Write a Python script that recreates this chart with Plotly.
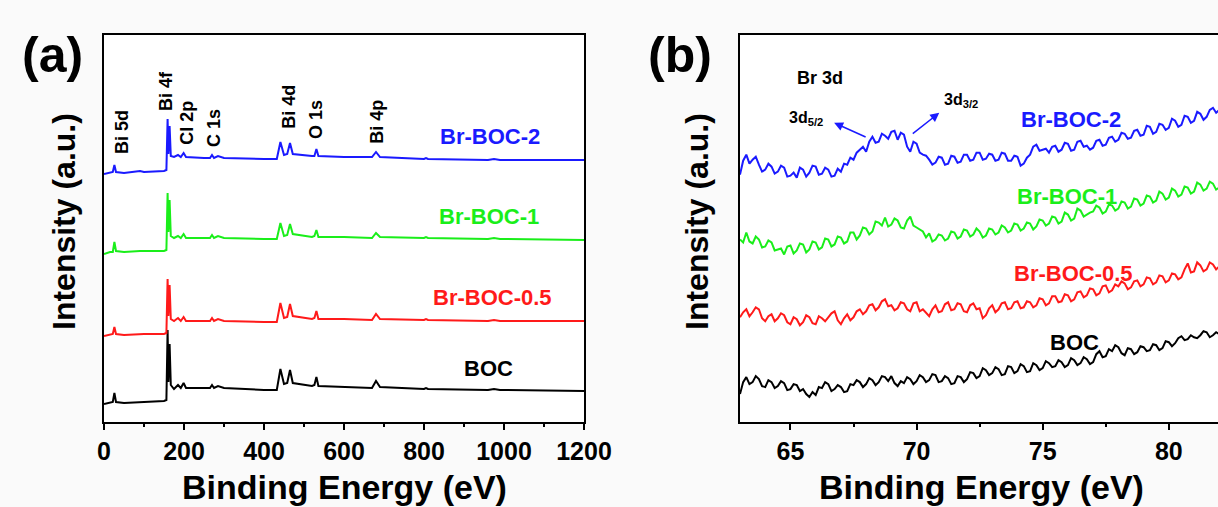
import plotly.graph_objects as go

# ---------------- Panel (a): XPS survey spectra ----------------
survey_be = [0, 15, 22, 26, 30, 50, 90, 100, 150, 156, 159, 161, 164, 167, 175, 185, 192, 199, 205,
             250, 265, 270, 275, 285, 300, 400, 432, 441, 450, 458, 465, 472, 490, 520, 526, 531,
             536, 600, 670, 680, 690, 800, 805, 810, 960, 975, 990, 1200]

survey_boc = [18, 19, 20, 29, 20, 19, 20, 20, 21, 22, 92, 40, 78, 37, 33, 37, 34, 39, 34,
              34, 34, 37, 34, 36, 34, 32, 32, 53, 38, 39, 52, 39, 38, 36, 37, 45,
              36, 35, 34, 41, 35, 33, 34, 33, 32, 33, 32, 31]
survey_brboc05 = [86, 87, 88, 95, 88, 87, 88, 88, 88, 89, 143, 106, 137, 103, 101, 104, 101, 105, 101,
                  101, 101, 104, 101, 103, 101, 100, 100, 119, 104, 105, 118, 106, 105, 103, 104, 111,
                  103, 103, 102, 108, 103, 102, 103, 102, 101, 102, 101, 101]
survey_brboc1 = [168, 170, 170, 180, 171, 170, 171, 171, 171, 172, 229, 190, 222, 186, 184, 186, 184, 188, 184,
                 184, 184, 187, 184, 186, 184, 183, 183, 199, 186, 187, 198, 188, 187, 185, 186, 192,
                 185, 185, 184, 189, 185, 184, 185, 184, 183, 184, 183, 182]
survey_brboc2 = [248, 249, 250, 257, 250, 249, 251, 250, 251, 252, 303, 268, 296, 266, 265, 267, 265, 269, 265,
                 264, 264, 267, 264, 266, 264, 263, 263, 280, 267, 268, 279, 268, 267, 266, 266, 273,
                 266, 265, 265, 270, 265, 263, 264, 263, 262, 263, 262, 262]

peak_labels = ["Bi 5d", "Bi 4f", "Cl 2p", "C 1s", "Bi 4d", "O 1s", "Bi 4p"]
peak_label_be = [45, 155, 207, 275, 462, 530, 682]
peak_label_int = [290, 331, 299, 294, 315, 302, 300]

# ---------------- Panel (b): Br 3d high-resolution ----------------
br_be = [63.0, 63.125, 63.25, 63.375, 63.5, 63.625, 63.75, 63.875,
         64.0, 64.125, 64.25, 64.375, 64.5, 64.625, 64.75, 64.875,
         65.0, 65.125, 65.25, 65.375, 65.5, 65.625, 65.75, 65.875,
         66.0, 66.125, 66.25, 66.375, 66.5, 66.625, 66.75, 66.875,
         67.0, 67.125, 67.25, 67.375, 67.5, 67.625, 67.75, 67.875,
         68.0, 68.125, 68.25, 68.375, 68.5, 68.625, 68.75, 68.875,
         69.0, 69.125, 69.25, 69.375, 69.5, 69.625, 69.75, 69.875,
         70.0, 70.125, 70.25, 70.375, 70.5, 70.625, 70.75, 70.875,
         71.0, 71.125, 71.25, 71.375, 71.5, 71.625, 71.75, 71.875,
         72.0, 72.125, 72.25, 72.375, 72.5, 72.625, 72.75, 72.875,
         73.0, 73.125, 73.25, 73.375, 73.5, 73.625, 73.75, 73.875,
         74.0, 74.125, 74.25, 74.375, 74.5, 74.625, 74.75, 74.875,
         75.0, 75.125, 75.25, 75.375, 75.5, 75.625, 75.75, 75.875,
         76.0, 76.125, 76.25, 76.375, 76.5, 76.625, 76.75, 76.875,
         77.0, 77.125, 77.25, 77.375, 77.5, 77.625, 77.75, 77.875,
         78.0, 78.125, 78.25, 78.375, 78.5, 78.625, 78.75, 78.875,
         79.0, 79.125, 79.25, 79.375, 79.5, 79.625, 79.75, 79.875,
         80.0, 80.125, 80.25, 80.375, 80.5, 80.625, 80.75, 80.875,
         81.0, 81.125, 81.25, 81.375, 81.5, 81.625, 81.75, 81.875,
         82.0]

br_brboc2 = [248, 262, 268, 259, 263, 266, 258, 251, 253, 259,
             256, 249, 251, 257, 255, 246, 247, 250, 245, 255,
             253, 246, 250, 257, 256, 248, 249, 255, 253, 246,
             247, 254, 251, 259, 258, 265, 263, 270, 273, 276,
             271, 281, 286, 280, 281, 289, 287, 284, 291, 292,
             283, 290, 288, 276, 271, 281, 279, 270, 268, 267,
             263, 258, 260, 266, 265, 258, 259, 267, 266, 260,
             261, 268, 268, 262, 263, 270, 270, 263, 264, 269,
             268, 262, 263, 270, 269, 262, 262, 267, 266, 257,
             259, 265, 268, 276, 278, 272, 273, 274, 270, 276,
             277, 271, 273, 280, 279, 272, 273, 281, 282, 276,
             277, 273, 275, 282, 283, 277, 278, 285, 286, 281,
             283, 290, 289, 284, 285, 292, 293, 287, 288, 297,
             296, 289, 291, 299, 298, 293, 295, 304, 302, 296,
             298, 307, 306, 300, 302, 311, 309, 303, 306, 313,
             315, 310, 313]
br_brboc1 = [183, 180, 190, 181, 179, 186, 183, 175, 176, 182,
             180, 172, 173, 174, 168, 176, 177, 169, 172, 179,
             178, 170, 173, 181, 180, 173, 175, 184, 183, 176,
             178, 186, 185, 179, 181, 190, 190, 183, 187, 195,
             194, 188, 191, 201, 200, 197, 205, 196, 198, 204,
             202, 195, 194, 202, 206, 197, 195, 193, 191, 185,
             189, 181, 183, 188, 187, 182, 184, 191, 190, 184,
             186, 193, 192, 186, 188, 194, 191, 185, 187, 194,
             193, 188, 190, 197, 195, 190, 192, 199, 198, 192,
             194, 200, 199, 193, 196, 203, 202, 197, 199, 206,
             205, 199, 201, 210, 208, 202, 204, 214, 212, 206,
             208, 210, 211, 217, 215, 209, 211, 218, 217, 212,
             214, 221, 220, 214, 216, 224, 223, 217, 219, 227,
             226, 220, 222, 231, 229, 223, 225, 234, 232, 226,
             228, 236, 235, 229, 231, 240, 238, 232, 234, 241,
             239, 233, 235]
br_brboc05 = [105, 110, 113, 106, 110, 115, 113, 104, 101, 106,
              108, 101, 104, 109, 107, 100, 98, 105, 103, 97,
              100, 107, 105, 99, 98, 106, 104, 101, 105, 109,
              111, 102, 98, 104, 108, 102, 105, 111, 113, 108,
              111, 117, 118, 112, 115, 121, 123, 116, 117, 112,
              114, 120, 119, 113, 111, 119, 120, 111, 113, 109,
              106, 113, 117, 110, 111, 118, 120, 112, 113, 119,
              118, 111, 110, 117, 119, 113, 114, 104, 107, 114,
              117, 110, 113, 119, 120, 113, 114, 120, 121, 114,
              115, 121, 120, 115, 117, 124, 123, 117, 119, 126,
              126, 120, 121, 128, 127, 121, 123, 130, 131, 125,
              127, 134, 133, 127, 129, 136, 137, 130, 132, 138,
              136, 141, 139, 133, 135, 141, 142, 136, 138, 145,
              144, 138, 140, 147, 146, 140, 142, 149, 148, 143,
              145, 153, 159, 150, 151, 160, 157, 151, 153, 160,
              158, 153, 156]
br_boc = [28, 40, 45, 38, 40, 46, 43, 36, 35, 42,
          40, 34, 36, 41, 39, 32, 33, 38, 37, 31,
          33, 28, 25, 30, 27, 35, 34, 40, 38, 31,
          33, 37, 35, 30, 31, 38, 37, 42, 40, 35,
          38, 44, 42, 37, 40, 46, 45, 41, 46, 39,
          36, 41, 39, 45, 43, 38, 41, 47, 45, 40,
          42, 48, 47, 40, 41, 46, 44, 38, 39, 46,
          45, 40, 43, 50, 49, 44, 46, 54, 52, 47,
          49, 55, 53, 47, 48, 56, 55, 49, 51, 58,
          56, 50, 51, 59, 57, 52, 54, 61, 59, 55,
          56, 62, 60, 55, 57, 64, 62, 57, 59, 65,
          63, 58, 60, 68, 71, 65, 66, 73, 71, 77,
          75, 69, 67, 74, 73, 68, 70, 76, 75, 71,
          72, 78, 77, 72, 74, 81, 80, 76, 79, 84,
          86, 82, 83, 87, 85, 84, 87, 91, 90, 85,
          87, 90, 88]

sample_names = ["BOC", "Br-BOC-0.5", "Br-BOC-1", "Br-BOC-2"]
sample_colors = ["#000000", "#ff1a1a", "#1aee1a", "#1a1aff"]
label_a_be = [960, 970, 962, 965]
label_a_int = [54, 125, 206, 286]
label_b_be = [76.25, 76.21, 75.98, 76.13]
label_b_int = [80, 149, 226, 303]

FONT = "Liberation Sans, Arial, sans-serif"
W, H = 1218, 507


def px_x(p):
    return p / W


def px_y(p):
    return 1 - p / H


fig = go.Figure()
survey_sets = [survey_boc, survey_brboc05, survey_brboc1, survey_brboc2]
br_sets = [br_boc, br_brboc05, br_brboc1, br_brboc2]
for name, col, ys in zip(sample_names, sample_colors, survey_sets):
    fig.add_trace(go.Scatter(x=survey_be, y=ys, mode="lines", name=name,
                             line=dict(color=col, width=2), xaxis="x", yaxis="y",
                             showlegend=False))
for name, col, ys in zip(sample_names, sample_colors, br_sets):
    fig.add_trace(go.Scatter(x=br_be, y=ys, mode="lines", name=name,
                             line=dict(color=col, width=2), xaxis="x2", yaxis="y2",
                             showlegend=False))

C = dict(xanchor="center", yanchor="middle", showarrow=False)
ann = []
for t, xv, yv in zip(peak_labels, peak_label_be, peak_label_int):
    ann.append(dict(x=xv, y=yv, xref="x", yref="y", text=t, textangle=-90,
                    font=dict(family=FONT, size=18, color="black", weight="bold"), **C))
for t, col, xa, ya, xb, yb in zip(sample_names, sample_colors, label_a_be, label_a_int,
                                  label_b_be, label_b_int):
    ann.append(dict(x=xa, y=ya, xref="x", yref="y", text=t,
                    font=dict(family=FONT, size=22, color=col, weight="bold"), **C))
    ann.append(dict(x=xb, y=yb, xref="x2", yref="y2", text=t,
                    font=dict(family=FONT, size=22, color=col, weight="bold"), **C))
ann.append(dict(x=66.17, y=345, xref="x2", yref="y2", text="Br 3d",
                font=dict(family=FONT, size=18, color="black", weight="bold"), **C))
ann.append(dict(x=65.62, y=304, xref="x2", yref="y2", text="3d<sub>5/2</sub>",
                font=dict(family=FONT, size=16, color="black", weight="bold"), **C))
ann.append(dict(x=71.77, y=322, xref="x2", yref="y2", text="3d<sub>3/2</sub>",
                font=dict(family=FONT, size=16, color="black", weight="bold"), **C))
ann.append(dict(x=66.73, y=300, xref="x2", yref="y2", ax=68.04, ay=285, axref="x2", ayref="y2",
                text="", showarrow=True, arrowhead=2, arrowsize=1.2, arrowwidth=1.5,
                arrowcolor="#1a1aff"))
ann.append(dict(x=70.90, y=310, xref="x2", yref="y2", ax=69.79, ay=288, axref="x2", ayref="y2",
                text="", showarrow=True, arrowhead=2, arrowsize=1.2, arrowwidth=1.5,
                arrowcolor="#1a1aff"))
for t, xc in [("(a)", 52), ("(b)", 680)]:
    ann.append(dict(x=px_x(xc), y=px_y(55), xref="paper", yref="paper", text=t,
                    font=dict(family=FONT, size=50, color="black", weight="bold"), **C))
for xc in [64, 697]:
    ann.append(dict(x=px_x(xc), y=px_y(222), xref="paper", yref="paper",
                    text="Intensity (a.u.)", textangle=-90,
                    font=dict(family=FONT, size=32, color="black", weight="bold"), **C))
for xc in [344, 981]:
    ann.append(dict(x=px_x(xc), y=px_y(487), xref="paper", yref="paper",
                    text="Binding Energy (eV)",
                    font=dict(family=FONT, size=34, color="black", weight="bold"), **C))

tickfont = dict(family=FONT, size=25, color="black", weight="bold")
y_dom = [px_y(422), px_y(35)]

fig.update_layout(
    template="none",
    width=W, height=H, autosize=False,
    margin=dict(l=0, r=0, t=0, b=0, pad=0, autoexpand=False),
    paper_bgcolor="#fafafa", plot_bgcolor="white",
    annotations=ann,
    xaxis=dict(domain=[px_x(104), px_x(584)], range=[0, 1200], dtick=200, tick0=0,
               automargin=False,
               showline=True, linecolor="black", linewidth=2, mirror=True,
               ticks="outside", ticklen=6, tickwidth=2, tickcolor="black",
               minor=dict(dtick=100, ticks="outside", ticklen=3, tickwidth=2, tickcolor="black"),
               showgrid=False, zeroline=False, tickfont=tickfont),
    yaxis=dict(domain=y_dom, range=[0, 387], automargin=False,
               showline=True, linecolor="black", linewidth=2,
               mirror=True, showticklabels=False, ticks="", showgrid=False, zeroline=False),
    xaxis2=dict(domain=[px_x(740), 1.0], range=[63, 81.95], dtick=5, tick0=65, anchor="y2",
                automargin=False,
                showline=True, linecolor="black", linewidth=2, mirror=True,
                ticks="outside", ticklen=6, tickwidth=2, tickcolor="black",
                minor=dict(dtick=2.5, tick0=65, ticks="outside", ticklen=3, tickwidth=2,
                           tickcolor="black"),
                showgrid=False, zeroline=False, tickfont=tickfont),
    yaxis2=dict(domain=y_dom, range=[0, 388], anchor="x2", automargin=False,
                showline=True, linecolor="black",
                linewidth=2, mirror=False, showticklabels=False, ticks="", showgrid=False,
                zeroline=False),
)

# remove the browser's default page margin so the figure sits at the window origin
page_css = ("document.body.style.margin='0';document.body.style.padding='0';"
            "document.body.style.overflow='hidden';"
            "document.documentElement.style.overflow='hidden';")
fig.write_html("out.html", post_script=page_css, config={"displayModeBar": False})
